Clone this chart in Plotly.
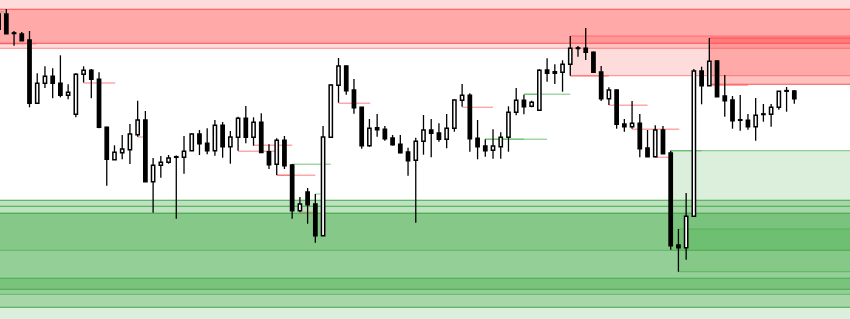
import plotly.graph_objects as go

# ---- candle data (price units) ----
opens = [289.7, 305.0, 285.5, 285.0, 279.0, 215.7, 235.7, 242.7, 235.7, 223.7,
         204.7, 244.7, 248.7, 239.7, 191.7, 159.3, 166.3, 169.3, 184.3, 199.0,
         137.3, 153.7, 156.7, 161.7, 161.7, 168.3, 185.0, 175.7, 168.3, 193.7,
         172.3, 181.7, 200.7, 181.7, 196.7, 167.3, 154.7, 178.7, 154.0, 108.3,
         127.0, 115.0, 83.3, 181.7, 233.7, 253.0, 229.0, 211.7, 173.3, 191.3,
         189.7, 181.0, 174.7, 167.0, 158.7, 177.7, 189.0, 186.0, 179.7, 190.7,
         218.7, 223.7, 180.7, 173.0, 168.7, 172.3, 181.7, 206.7, 218.7, 212.7,
         208.7, 249.0, 247.3, 246.7, 254.7, 270.5, 270.7, 266.7, 247.0, 220.3,
         229.0, 195.0, 192.3, 195.7, 171.0, 162.3, 189.0, 166.0, 74.0, 71.3,
         102.7, 248.0, 233.3, 258.0, 223.0, 219.0, 198.7, 198.7, 192.3, 204.5,
         204.7, 211.7, 227.8, 228.0]
highs = [307.0, 310.0, 288.0, 287.0, 288.0, 245.7, 252.7, 250.7, 263.7, 234.7,
         245.7, 252.7, 250.0, 246.7, 192.3, 173.7, 184.0, 195.0, 218.3, 208.0,
         161.0, 163.0, 164.0, 163.5, 183.0, 185.5, 189.0, 190.7, 199.0, 197.0,
         188.0, 202.3, 213.0, 201.7, 205.7, 174.7, 180.7, 183.0, 155.0, 122.0,
         131.0, 125.0, 193.0, 234.7, 261.0, 253.5, 240.0, 212.0, 200.0, 205.0,
         193.0, 184.0, 184.0, 171.3, 181.3, 204.0, 200.0, 195.7, 205.0, 219.5,
         235.0, 225.7, 199.0, 179.7, 189.7, 186.7, 212.7, 231.0, 224.3, 218.3,
         249.7, 260.7, 254.7, 258.7, 283.0, 273.0, 291.0, 267.5, 253.0, 231.7,
         229.5, 200.0, 218.0, 205.0, 189.0, 193.7, 193.0, 168.3, 90.0, 126.0,
         250.0, 252.3, 281.0, 258.5, 244.0, 223.0, 224.0, 205.0, 221.0, 215.0,
         215.0, 228.0, 232.0, 229.0]
lows = [289.0, 285.0, 273.3, 278.3, 211.7, 215.7, 231.0, 220.7, 221.7, 219.7,
        201.7, 236.5, 220.7, 190.7, 133.3, 159.0, 159.7, 155.0, 182.3, 137.0,
        106.3, 141.3, 155.3, 100.3, 145.3, 168.0, 164.0, 164.7, 163.3, 161.3,
        155.3, 168.3, 175.7, 173.3, 166.3, 150.0, 144.0, 150.0, 100.3, 106.7,
        95.3, 76.3, 83.0, 181.5, 216.3, 224.3, 205.3, 170.3, 172.3, 182.3,
        178.3, 173.5, 165.7, 143.3, 96.3, 164.3, 161.7, 177.3, 170.7, 187.3,
        212.3, 167.3, 159.7, 162.3, 160.3, 160.3, 167.3, 203.7, 204.7, 211.7,
        208.5, 237.3, 235.0, 227.3, 243.3, 262.3, 259.0, 246.0, 218.0, 214.0,
        190.3, 187.3, 190.3, 161.7, 162.0, 161.7, 165.0, 69.3, 47.3, 59.3,
        102.5, 214.7, 233.0, 222.0, 202.3, 190.3, 188.3, 189.3, 178.3, 197.3,
        192.3, 209.3, 207.3, 215.3]
closes = [305.0, 285.3, 286.0, 278.3, 215.7, 235.7, 242.7, 235.7, 223.7, 226.7,
          244.7, 248.7, 239.7, 191.7, 159.7, 166.7, 170.0, 185.0, 199.0, 137.3,
          153.7, 156.7, 161.0, 162.0, 167.7, 185.0, 175.3, 168.3, 193.7, 172.3,
          182.0, 200.7, 181.7, 196.7, 166.5, 154.3, 178.7, 153.3, 108.3, 115.0,
          114.3, 83.3, 182.0, 234.0, 253.0, 228.3, 211.3, 173.3, 190.7, 189.3,
          180.3, 174.3, 166.3, 158.3, 177.7, 189.0, 185.7, 179.7, 190.7, 219.0,
          223.7, 180.3, 172.3, 168.3, 173.0, 181.7, 206.7, 218.7, 212.3, 216.7,
          248.7, 245.7, 245.7, 254.7, 270.7, 270.7, 266.7, 246.7, 220.3, 229.0,
          194.7, 192.3, 195.7, 170.3, 162.3, 189.0, 165.3, 73.3, 71.3, 102.7,
          248.0, 233.3, 257.7, 222.3, 218.3, 198.3, 199.0, 192.3, 203.7, 204.7,
          211.7, 227.7, 228.0, 220.3]

# ---- supply (red) / demand (green) zones: start bar, top, bottom ----
red_zone_x0 = [-3, -3, -3, 74, 92, 92]
red_zone_top = [339.0, 309.7, 309.7, 283.0, 281.0, 281.0]
red_zone_bottom = [270.7, 275.7, 275.7, 243.3, 234.7, 234.7]

green_zone_x0 = [-3, -3, -3, -3, -3, -3, -3, -3, 87, 88]
green_zone_top = [118.7, 118.7, 112.7, 105.7, 105.7, 105.7, 40.7, 40.7, 168.3, 90.0]
green_zone_bottom = [-20.0, 112.7, 11.7, 68.7, 24.7, 11.7, 29.7, 29.7, 68.7, 47.3]

# ---- short level lines: start bar, end bar, price ----
red_level_x0 = [-0.5, 11, 18, 44, 33, 31, 36, 36, 39, 60, 74, 79, 82, 85, 92]
red_level_x1 = [4.9, 15.1, 19, 48.1, 38, 35.8, 41, 38, 40.7, 64, 79, 84, 88.1, 86.9, 97]
red_level_price = [275.3, 236.0, 182.0, 215.7, 173.7, 167.7, 143.7, 143.7, 106.7,
                   211.7, 243.0, 213.7, 189.7, 161.7, 233.7]

green_level_x0 = [-0.5, 38, 41, 68, 68, 63, 63, 87]
green_level_x1 = [0.7, 43, 41.7, 74, 70, 71, 68, 91]
green_level_price = [307.0, 154.7, 125.0, 224.7, 224.7, 179.7, 179.7, 168.3]

X_END = 115
RED_FILL = "rgba(255,82,82,0.2)"
RED_EDGE = "rgba(255,82,82,0.65)"
RED_LEVEL = "rgba(255,82,82,0.5)"
GREEN_FILL = "rgba(76,175,80,0.2)"
GREEN_EDGE = "rgba(76,175,80,0.75)"
GREEN_LEVEL = "rgba(76,175,80,0.5)"

idx = list(range(len(opens)))

shapes = []


def add_zones(x0s, tops, bottoms, fill, edge):
    for x0, t, b in zip(x0s, tops, bottoms):
        shapes.append(dict(type="rect", xref="x", yref="y", x0=x0, x1=X_END, y0=b, y1=t,
                           fillcolor=fill, line=dict(width=0), layer="below"))
    for x0, t, b in zip(x0s, tops, bottoms):
        for yv in (t, b):
            shapes.append(dict(type="line", xref="x", yref="y", x0=x0, x1=X_END, y0=yv, y1=yv,
                               line=dict(color=edge, width=1), layer="below"))


add_zones(red_zone_x0, red_zone_top, red_zone_bottom, RED_FILL, RED_EDGE)
add_zones(green_zone_x0, green_zone_top, green_zone_bottom, GREEN_FILL, GREEN_EDGE)

for x0, x1, p in zip(red_level_x0, red_level_x1, red_level_price):
    shapes.append(dict(type="line", xref="x", yref="y", x0=x0, x1=x1, y0=p, y1=p,
                       line=dict(color=RED_LEVEL, width=1.4), layer="below"))
for x0, x1, p in zip(green_level_x0, green_level_x1, green_level_price):
    shapes.append(dict(type="line", xref="x", yref="y", x0=x0, x1=x1, y0=p, y1=p,
                       line=dict(color=GREEN_LEVEL, width=1.4), layer="below"))

# ---- wicks (split so they never cross hollow bodies) ----
wx, wy = [], []
for i, o, h, l, c in zip(idx, opens, highs, lows, closes):
    top, bot = max(o, c), min(o, c)
    if h > top:
        wx += [i, i, None]
        wy += [top, h, None]
    if l < bot:
        wx += [i, i, None]
        wy += [l, bot, None]

body_base = [min(o, c) for o, c in zip(opens, closes)]
body_h = [max(abs(c - o), 0.6) for o, c in zip(opens, closes)]
body_col = ["#ffffff" if c > o else "#000000" for o, c in zip(opens, closes)]

fig = go.Figure()
fig.add_trace(go.Scatter(x=wx, y=wy, mode="lines", line=dict(color="black", width=1.3),
                         hoverinfo="skip", showlegend=False))
fig.add_trace(go.Bar(x=idx, y=body_h, base=body_base, width=0.42,
                     marker=dict(color=body_col, line=dict(color="black", width=1.5)),
                     showlegend=False))

fig.update_layout(
    width=850, height=319,
    margin=dict(l=0, r=0, t=0, b=0),
    paper_bgcolor="white", plot_bgcolor="white",
    shapes=shapes, showlegend=False,
    xaxis=dict(range=[0.181, 110.21], visible=False, fixedrange=True),
    yaxis=dict(range=[0, 319], visible=False, fixedrange=True),
)

fig.write_html("out.html")
